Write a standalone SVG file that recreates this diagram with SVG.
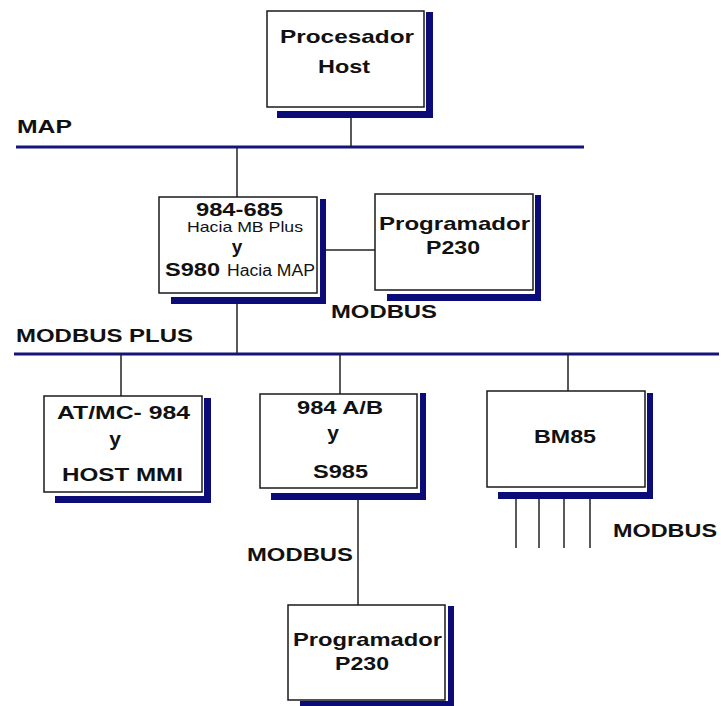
<svg xmlns="http://www.w3.org/2000/svg" width="721" height="706" viewBox="0 0 721 706">
<style>
.box{fill:#fff;stroke:#1a1a1a;stroke-width:1.5}
.sh{fill:#0c0c78}
.bus{stroke:#14147a;stroke-width:3;fill:none}
.ln{stroke:#222;stroke-width:1.5;fill:none}
text{font-family:"Liberation Sans",Arial,sans-serif;fill:#111}
.b{font-weight:bold;font-size:19px}
.r{font-size:15px}
.c{text-anchor:middle}
.y{font-size:21px}
</style>
<rect width="721" height="706" fill="#fff"/>
<g id="connectors">
<line class="bus" x1="16" y1="147" x2="584" y2="147"/>
<line class="bus" x1="14" y1="354" x2="719" y2="354"/>
<line class="ln" x1="351" y1="118" x2="351" y2="147"/>
<line class="ln" x1="237" y1="147" x2="237" y2="197"/>
<line class="ln" x1="237" y1="304" x2="237" y2="354"/>
<line class="ln" x1="325" y1="250" x2="375" y2="250"/>
<line class="ln" x1="121" y1="354" x2="121" y2="396"/>
<line class="ln" x1="340" y1="354" x2="340" y2="394"/>
<line class="ln" x1="568" y1="354" x2="568" y2="391"/>
<line class="ln" x1="358" y1="500" x2="358" y2="605"/>
<line class="ln" x1="516" y1="499" x2="516" y2="548"/>
<line class="ln" x1="539" y1="499" x2="539" y2="548"/>
<line class="ln" x1="564" y1="499" x2="564" y2="548"/>
<line class="ln" x1="590" y1="499" x2="590" y2="548"/>
<text class="b" x="17" y="133" textLength="55" lengthAdjust="spacingAndGlyphs">MAP</text>
<text class="b" x="16" y="342" textLength="177" lengthAdjust="spacingAndGlyphs">MODBUS PLUS</text>
<text class="b" x="331" y="318" textLength="106" lengthAdjust="spacingAndGlyphs">MODBUS</text>
<text class="b" x="613" y="537" textLength="104" lengthAdjust="spacingAndGlyphs">MODBUS</text>
<text class="b" x="247" y="561" textLength="106" lengthAdjust="spacingAndGlyphs">MODBUS</text>
</g>
<g id="host">
<rect class="sh" x="426" y="12" width="7" height="106"/>
<rect class="sh" x="277" y="111" width="156" height="7"/>
<rect class="box" x="267" y="11" width="157" height="96"/>
<text class="b" x="280" y="43" textLength="134" lengthAdjust="spacingAndGlyphs">Procesador</text>
<text class="b" x="318" y="73" textLength="52" lengthAdjust="spacingAndGlyphs">Host</text>
</g>
<g id="plc984">
<rect class="sh" x="320" y="199" width="6" height="105"/>
<rect class="sh" x="171" y="297" width="155" height="7"/>
<rect class="box" x="159" y="197" width="158" height="96"/>
<text class="b" x="196" y="216" textLength="87" lengthAdjust="spacingAndGlyphs">984-685</text>
<text class="r" x="187" y="232" textLength="116" lengthAdjust="spacingAndGlyphs">Hacia MB Plus</text>
<text class="b c" x="237" y="253">y</text>
<text class="b" x="165" y="276" textLength="55" lengthAdjust="spacingAndGlyphs">S980</text>
<text class="r" x="227" y="276" textLength="88" lengthAdjust="spacingAndGlyphs" style="font-size:16px">Hacia MAP</text>
</g>
<g id="prog1">
<rect class="sh" x="535" y="195" width="6" height="106"/>
<rect class="sh" x="387" y="294" width="154" height="7"/>
<rect class="box" x="375" y="194" width="158" height="96"/>
<text class="b" x="379" y="230" textLength="151" lengthAdjust="spacingAndGlyphs">Programador</text>
<text class="b" x="426" y="254" textLength="54" lengthAdjust="spacingAndGlyphs">P230</text>
</g>
<g id="atmc">
<rect class="sh" x="204" y="398" width="7" height="105"/>
<rect class="sh" x="55" y="496" width="156" height="7"/>
<rect class="box" x="44" y="396" width="158" height="96"/>
<text class="b" x="57" y="419" textLength="133" lengthAdjust="spacingAndGlyphs">AT/MC- 984</text>
<text class="b c y" x="115" y="446">y</text>
<text class="b" x="62" y="481" textLength="121" lengthAdjust="spacingAndGlyphs">HOST MMI</text>
</g>
<g id="plc984ab">
<rect class="sh" x="420" y="393" width="6" height="107"/>
<rect class="sh" x="271" y="493" width="155" height="7"/>
<rect class="box" x="260" y="394" width="157" height="94"/>
<text class="b" x="297" y="414" textLength="86" lengthAdjust="spacingAndGlyphs">984 A/B</text>
<text class="b c y" x="333" y="440">y</text>
<text class="b" x="313" y="478" textLength="55" lengthAdjust="spacingAndGlyphs">S985</text>
</g>
<g id="bm85">
<rect class="sh" x="647" y="393" width="6" height="106"/>
<rect class="sh" x="498" y="492" width="155" height="7"/>
<rect class="box" x="487" y="391" width="158" height="96"/>
<text class="b" x="534" y="443" textLength="62" lengthAdjust="spacingAndGlyphs">BM85</text>
</g>
<g id="prog2">
<rect class="sh" x="448" y="606" width="6" height="102"/>
<rect class="sh" x="300" y="701" width="154" height="7"/>
<rect class="box" x="288" y="605" width="157" height="95"/>
<text class="b" x="293" y="646" textLength="149" lengthAdjust="spacingAndGlyphs">Programador</text>
<text class="b" x="335" y="670" textLength="54" lengthAdjust="spacingAndGlyphs">P230</text>
</g>
</svg>
